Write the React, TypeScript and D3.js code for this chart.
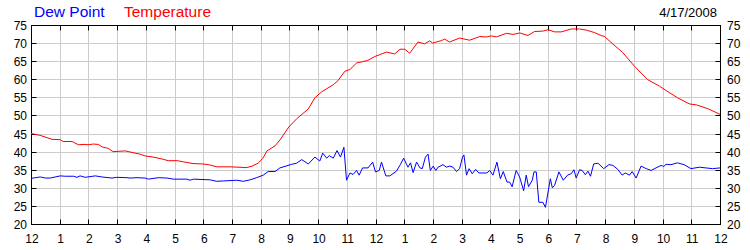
import React from "react";
import * as d3 from "d3";

const xTickLabels = ["12","1","2","3","4","5","6","7","8","9","10","11","12","1","2","3","4","5","6","7","8","9","10","11","12"];
const yTicks = [20, 25, 30, 35, 40, 45, 50, 55, 60, 65, 70, 75];
const dateLabel = "4/17/2008";
const seriesNames = ["Dew Point", "Temperature"];

const tempHours = [0,0.32,0.73,1.02,1.12,1.43,1.65,1.85,1.99,2.17,2.34,2.48,2.69,2.86,3.28,3.45,3.8,3.98,4.25,4.6,4.78,5.09,5.3,5.64,5.99,6.24,6.48,6.93,7.52,7.7,7.91,8.08,8.22,8.5,8.67,8.98,9.27,9.66,9.89,10.12,10.53,10.69,10.93,11.11,11.34,11.57,11.73,11.98,12.38,12.67,12.85,13.02,13.19,13.48,13.71,13.89,13.99,14.3,14.41,14.58,14.93,15.28,15.63,15.86,16.03,16.21,16.56,16.79,17.03,17.31,17.54,17.82,18.01,18.24,18.47,18.82,19.11,19.34,19.63,19.86,19.98,20.26,20.61,21.02,21.48,21.89,22.12,22.52,22.93,23.19,23.6,24];
const tempValues = [45,44.5,43.4,43.3,42.8,42.8,41.9,42,41.9,42.1,42,41.3,40.9,40,40.2,39.9,39.3,38.8,38.5,37.9,37.5,37.5,37.2,36.7,36.6,36.3,35.8,35.8,35.6,36,36.8,38.2,40.2,41.6,43.2,46.8,49.2,51.8,54.9,56.5,58.5,59.6,62.2,62.7,64.5,64.9,65.2,66.3,67.5,67,68.3,68.3,67.2,70.3,69.8,70.6,70,70.7,71.1,70.3,71.4,70.8,71.8,71.7,72,71.7,72.7,72.4,72.8,72.1,73.2,73.3,73.7,73.1,73.1,73.9,73.9,73.6,72.9,72.1,71.8,69.8,67.4,63.6,59.9,58.1,56.9,54.9,53.2,52.9,51.8,50.3];

const dewHours = [0,0.32,0.5,0.67,1.02,1.19,1.48,1.6,1.71,1.89,2.24,2.47,2.82,2.99,3.34,3.45,3.69,3.98,4.09,4.44,4.73,4.96,5.43,5.54,5.66,6.24,6.47,6.7,7.17,7.39,7.63,7.86,8.09,8.26,8.5,8.67,9.08,9.25,9.43,9.66,9.89,10.06,10.16,10.3,10.39,10.53,10.66,10.78,10.9,10.99,11.11,11.22,11.34,11.43,11.55,11.74,11.9,12,12.13,12.21,12.36,12.5,12.73,12.87,12.98,13.13,13.22,13.31,13.43,13.55,13.63,13.74,13.83,13.91,14.01,14.1,14.18,14.35,14.47,14.58,14.7,14.82,14.93,15.03,15.08,15.17,15.26,15.37,15.49,15.6,15.88,15.98,16.09,16.23,16.35,16.45,16.58,16.67,16.76,16.9,17.02,17.16,17.25,17.33,17.46,17.52,17.6,17.69,17.83,17.92,18.09,18.16,18.24,18.39,18.54,18.69,18.82,18.91,18.99,19.11,19.2,19.31,19.4,19.49,19.6,19.75,19.95,20.13,20.27,20.44,20.59,20.7,20.85,20.94,21.08,21.25,21.43,21.6,21.77,21.95,22.04,22.12,22.29,22.52,22.75,22.99,23.28,23.51,23.74,24];
const dewValues = [32.6,33,32.7,32.7,33.3,33.2,33.2,32.9,33.3,32.9,33.3,33,32.7,32.9,32.8,32.7,32.8,32.7,32.4,32.8,32.7,32.4,32.4,32.1,32.4,32.2,31.8,31.9,32.1,31.8,32.2,32.8,33.5,34.5,34.5,35.5,36.5,36.8,37.8,36.6,38.5,37.4,39.6,38.2,38.9,38.2,40.3,38.5,41.2,32.1,34.1,33.7,34.8,33.5,35.5,35.5,37.1,34.4,34.8,37.1,33.3,33.3,34.6,36.5,38.2,35.7,36.9,34.2,37.1,35.5,35.3,38.5,39.3,34.8,36,34.8,35.7,36.4,35.7,36,35.7,34.5,35.3,38.5,39.1,33.5,35.3,33.9,35.1,34.1,34.1,34.8,33.5,37.1,32.5,34.5,31.6,31.6,30.3,34.8,33,29.2,33.5,30.3,32.1,34.4,34.4,26,26,24.6,32.5,30,30.7,34.4,32.1,33.5,33.9,35,32.7,35,34.8,33.6,34.6,33.2,36.6,36.8,35.3,36.4,36.2,35.1,33.5,34.1,33.5,34.5,32.7,36,35.3,34.8,35.5,36.2,35.9,36.5,36.4,36.9,36.4,35.3,35.7,35.5,35.3,35.5];

const W = 750, H = 250;
const L = 31, R = 720, T = 25, B = 224;
const font = "Arial, 'Liberation Sans', sans-serif";

export default function App() {
  const x = d3.scaleLinear().domain([0, 24]).range([L, R]);
  const y = d3.scaleLinear().domain([20, 75]).range([B, T]);
  const line = d3.line<[number, number]>().x(d => x(d[0])).y(d => y(d[1]));
  const tempPts = tempHours.map((h, i) => [h, tempValues[i]] as [number, number]);
  const dewPts = dewHours.map((h, i) => [h, dewValues[i]] as [number, number]);
  const hours = d3.range(0, 25);
  const cx = (v: number) => Math.round(x(v)) + 0.5;
  const cy = (v: number) => Math.round(y(v)) + 0.5;
  return (
    <svg width={W} height={H} style={{ position: "absolute", left: 0, top: 0, background: "#fff" }}>
      <rect x={0} y={0} width={W} height={H} fill="#fff" />
      {hours.slice(1, -1).map(h => (
        <line key={"vg" + h} x1={cx(h)} x2={cx(h)} y1={T} y2={B} stroke="#cccccc" strokeWidth={1} />
      ))}
      {yTicks.slice(1, -1).map(v => (
        <line key={"hg" + v} x1={L} x2={R} y1={cy(v)} y2={cy(v)} stroke="#cccccc" strokeWidth={1} />
      ))}
      {hours.map(h => (
        <g key={"xt" + h}>
          <line x1={cx(h)} x2={cx(h)} y1={cy(75)} y2={cy(75) + 5} stroke="#000" />
          <line x1={cx(h)} x2={cx(h)} y1={cy(20)} y2={cy(20) - 5} stroke="#000" />
          <text x={x(h) + 1} y={243} textAnchor="middle" fontFamily={font} fontSize={12} fill="#000">{xTickLabels[h]}</text>
        </g>
      ))}
      {yTicks.map(v => (
        <g key={"yt" + v}>
          <line x1={cx(0)} x2={cx(0) + 5} y1={cy(v)} y2={cy(v)} stroke="#000" />
          <line x1={cx(24)} x2={cx(24) - 5} y1={cy(v)} y2={cy(v)} stroke="#000" />
          <text x={27} y={y(v) + 5} textAnchor="end" fontFamily={font} fontSize={12} fill="#000">{v}</text>
          <text x={727} y={y(v) + 5} textAnchor="start" fontFamily={font} fontSize={12} fill="#000">{v}</text>
        </g>
      ))}
      <rect x={cx(0)} y={cy(75)} width={cx(24) - cx(0)} height={cy(20) - cy(75)} fill="none" stroke="#000" strokeWidth={1} />
      <path d={line(tempPts) || ""} fill="none" stroke="#ff0000" strokeWidth={1} />
      <path d={line(dewPts) || ""} fill="none" stroke="#0000ff" strokeWidth={1} />
      <text x={34} y={17} fontFamily={font} fontSize={15.5} fill="#0000ff">{seriesNames[0]}</text>
      <text x={124} y={17} fontFamily={font} fontSize={15.5} fill="#ff0000">{seriesNames[1]}</text>
      <text x={717} y={17} textAnchor="end" fontFamily={font} fontSize={13} fill="#000">{dateLabel}</text>
    </svg>
  );
}
